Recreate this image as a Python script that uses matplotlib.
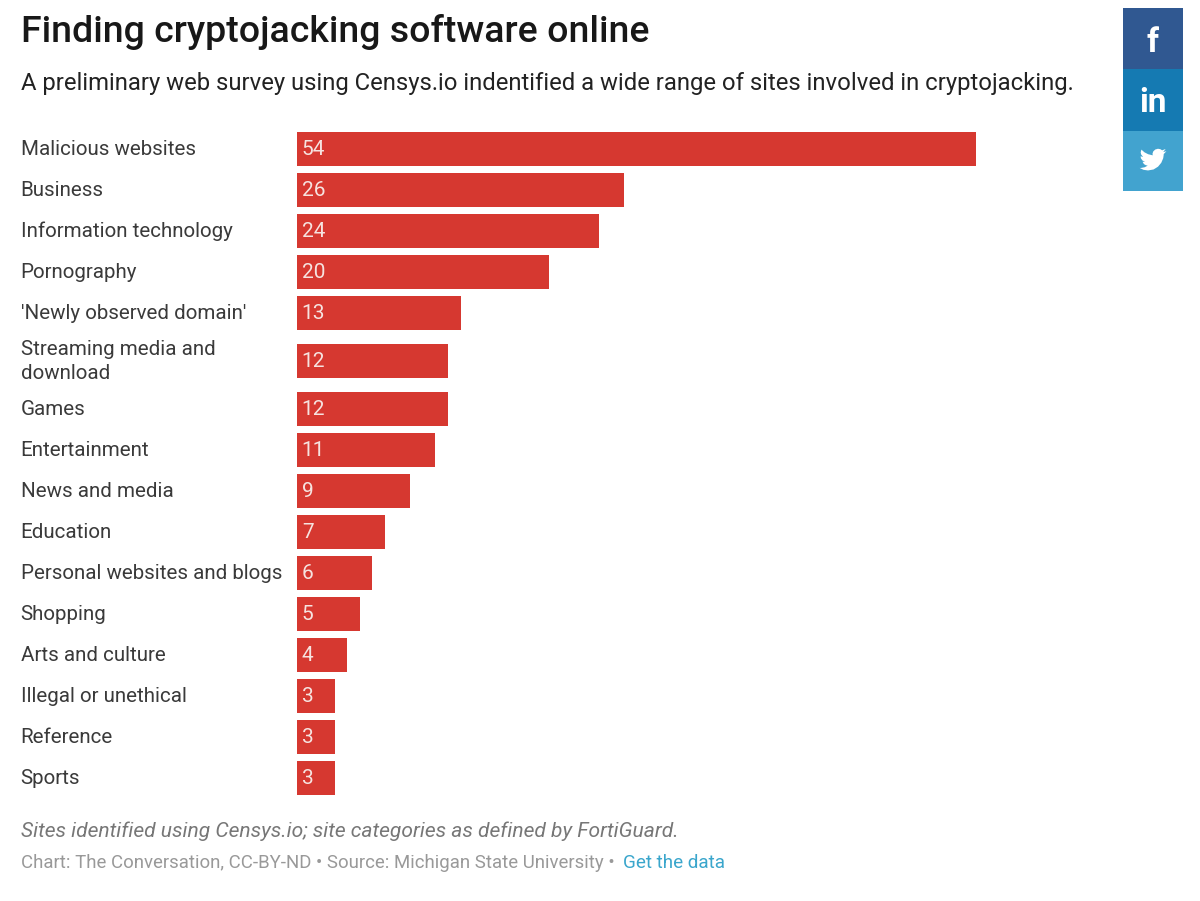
#!/usr/bin/env python3

from matplotlib import pyplot as plt
from matplotlib.patches import Rectangle, Polygon
plt.rcParams['font.family'] = ['Roboto', 'DejaVu Sans']

categories = ['Malicious websites', 'Business', 'Information technology', 'Pornography',
              "'Newly observed domain'", 'Streaming media and\ndownload', 'Games', 'Entertainment',
              'News and media', 'Education', 'Personal websites and blogs', 'Shopping',
              'Arts and culture', 'Illegal or unethical', 'Reference', 'Sports']
values = [54, 26, 24, 20, 13, 12, 12, 11, 9, 7, 6, 5, 4, 3, 3, 3]

# rough outline of the bird icon, 24 unit box
bird = [(24, 4.6), (21.1, 5.35), (23.3, 2.6), (20.16, 3.8), (18.5, 2.75), (16.4, 2.4), (14, 3.1),
        (12.2, 4.8), (11.55, 6.8), (11.78, 8.29), (7.7, 7.3), (4.4, 5.6), (1.64, 3.16), (1, 5.6),
        (1.4, 7.5), (3.16, 9.73), (0.93, 9.12), (1.2, 11), (2.6, 12.9), (4.88, 13.97), (2.67, 14.05),
        (3.9, 16.1), (5.6, 17.1), (7.27, 17.47), (4.6, 18.9), (1.17, 19.57), (0, 19.5), (3.5, 21.2),
        (7.56, 21.78), (12.5, 20.9), (16.5, 18.4), (19.4, 14.9), (21.1, 10.9), (21.56, 7.8), (21.54, 7.17)]

W, H = 1200, 901
RED = '#d63830'
TEXT = '#3a3a3a'

fig = plt.figure(figsize=(W / 100, H / 100), dpi=100)
bg = fig.add_axes([0, 0, 1, 1])
bg.set_xlim(0, W)
bg.set_ylim(H, 0)
bg.axis('off')

# row centres: 41px per row, the wrapped label takes 7px more each side
ys = []
y = 149
for i, c in enumerate(categories):
  if '\n' in c:
    y += 7
  ys.append(y)
  y += 41
  if '\n' in c:
    y += 7

# bars live in their own axes so the widths come from the value scale
px_per_unit = 12.58
ax = fig.add_axes([297 / W, 0, (W - 297) / W, 1])
ax.set_xlim(0, (W - 297) / px_per_unit)
ax.set_ylim(H, 0)
ax.axis('off')
ax.patch.set_alpha(0)
ax.barh(ys, values, height=34, left=0, color=RED)

for y, v, c in zip(ys, values, categories):
  ax.text(0.38, y + 6, str(v), color='#f6e3e0', fontsize=15, va='baseline', ha='left')
  lines = c.split('\n')
  if len(lines) == 1:
    bg.text(20.6, y + 5.6, c, color=TEXT, fontsize=14.72, va='baseline', ha='left')
  else:
    bg.text(20.6, y - 6.4, lines[0], color=TEXT, fontsize=14.72, va='baseline', ha='left')
    bg.text(20.6, y + 17.6, lines[1], color=TEXT, fontsize=14.72, va='baseline', ha='left')

bg.text(21, 42.5, 'Finding cryptojacking software online', color='#181818', fontsize=26.97,
        fontweight='medium', va='baseline')
bg.text(21, 90, 'A preliminary web survey using Censys.io indentified a wide range of sites involved in cryptojacking.',
        color='#222222', fontsize=17.2, va='baseline')
bg.text(21, 837, 'Sites identified using Censys.io; site categories as defined by FortiGuard.',
        color='#777777', fontsize=15.15, style='italic', va='baseline')
bg.text(21, 868, 'Chart: The Conversation, CC-BY-ND • Source: Michigan State University • ',
        color='#999999', fontsize=13.45, va='baseline')
bg.text(623, 868, 'Get the data', color='#3aa6cc', fontsize=13.6, va='baseline')

# share buttons
bg.add_patch(Rectangle((1123, 8), 60, 61, color='#305891', lw=0))
bg.add_patch(Rectangle((1123, 69), 60, 62, color='#157ab2', lw=0))
bg.add_patch(Rectangle((1123, 131), 60, 60, color='#42a3cf', lw=0))
bg.text(1153, 52, 'f', color='white', fontsize=24, fontweight='bold', ha='center', va='baseline')
bg.text(1153, 112, 'in', color='white', fontsize=24, fontweight='bold', ha='center', va='baseline')
bg.add_patch(Polygon([(1153 + (bx - 12) * 1.12, 159.5 + (by - 12) * 1.12) for bx, by in bird],
                     closed=True, color='white', lw=0))

plt.savefig('out.png', dpi=100)
